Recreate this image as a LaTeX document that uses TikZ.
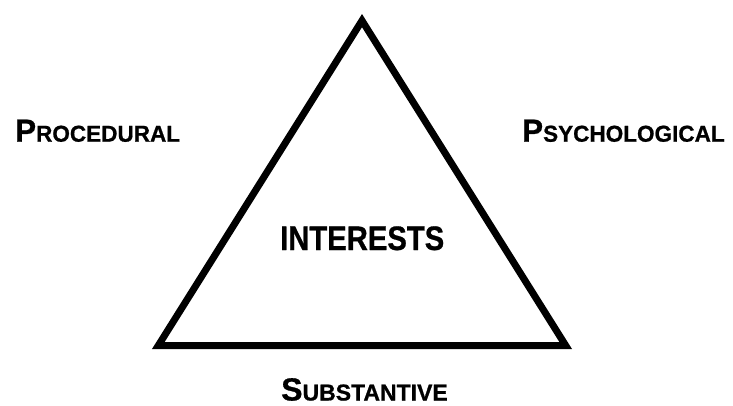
\documentclass[tikz,border=0pt]{standalone}
\usepackage{fontspec}
\setmainfont{Liberation Sans}
% a slightly heavier bold face for all labels
\newfontfamily\heavyfont[FakeBold=0.8]{Liberation Sans Bold}
% first letter large, remaining letters as smaller capitals
\newcommand\initcaps[2]{{\fontsize{32}{32}\selectfont #1}{\fontsize{23}{23}\selectfont #2}}
\begin{document}
\begin{tikzpicture}[x=1pt,y=-1pt,
  lbl/.style={inner sep=0pt, anchor=base west, font=\heavyfont},
  edge/.style={line width=7pt, line join=miter}]
\useasboundingbox (0,0) rectangle (733,405);
% triangle corners
\coordinate (apex) at (362,20.6);
\coordinate (bl) at (158.3,345.5);
\coordinate (br) at (565.7,345.5);
\draw[edge] (apex) -- (bl) -- (br) -- cycle;
% labels
\node[lbl, xscale=0.98] (proc) at (15,141.7) {\initcaps{P}{ROCEDURAL}};
\node[lbl, xscale=0.98] (psych) at (522,141.7) {\initcaps{P}{SYCHOLOGICAL}};
\node[lbl] (subst) at (281,400.5) {\initcaps{S}{UBSTANTIVE}};
\node[lbl, xscale=0.86, font=\heavyfont\fontsize{34}{34}\selectfont] (inter) at (280,250) {INTERESTS};
\end{tikzpicture}
\end{document}
